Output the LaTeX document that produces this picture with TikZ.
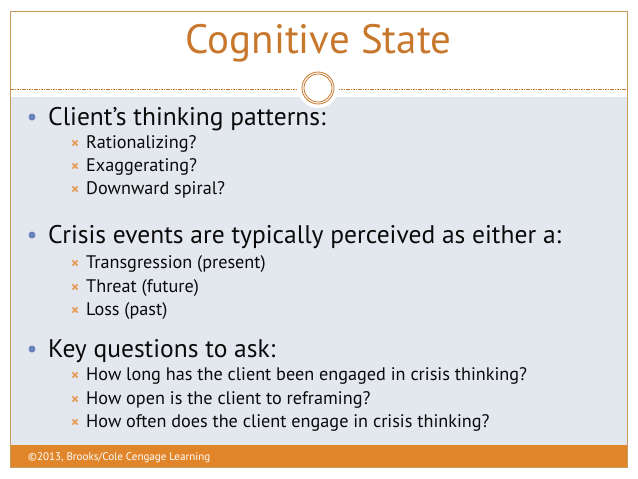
\documentclass[tikz,border=0pt]{standalone}
\usepackage{fontspec}
\setmainfont{PT Sans}
\usetikzlibrary{shapes.misc}
\definecolor{frameor}{HTML}{C89A5E}
\definecolor{titleor}{HTML}{C8782D}
\definecolor{footor}{HTML}{E0852A}
\definecolor{panel}{HTML}{E3E7EE}
\definecolor{dotblue}{HTML}{6A82B8}
\definecolor{xmark}{HTML}{E39A52}
\definecolor{txt}{HTML}{0A0A0A}
\tikzset{
  main/.style={anchor=base west, inner sep=0pt, font=\fontsize{25.5}{30}\selectfont, text=txt},
  sub/.style={anchor=base west, inner sep=0pt, font=\fontsize{18.2}{22}\selectfont, text=txt},
  dotbullet/.style={circle, fill=dotblue, inner sep=0pt, minimum size=7pt},
  xbullet/.style={cross out, draw=xmark, line width=1.6pt, inner sep=0pt, minimum size=3.5pt},
}
\begin{document}
\begin{tikzpicture}[x=1pt,y=-1pt]
\useasboundingbox (0,0) rectangle (638,479);
\fill[white] (0,0) rectangle (638,479);
% panel and footer
\fill[panel] (10,97) rectangle (627,445);
\fill[footor] (10,445) rectangle (627,467);
\draw[frameor, line width=0.9pt] (10,11) rectangle (627,467);
% dashed separator
\draw[titleor, line width=0.8pt, dash pattern=on 1.6pt off 0.8pt] (10,89) -- (627,89);
% circle ornament
\node[circle, fill=white, minimum size=40pt, inner sep=0pt] (halo) at (318,88) {};
\node[circle, draw=titleor, line width=0.8pt, minimum size=32pt, inner sep=0pt] (ringout) at (318,88) {};
\node[circle, draw=titleor, line width=0.8pt, minimum size=28pt, inner sep=0pt] (ringin) at (318,88) {};
% title
\node[anchor=base, inner sep=0pt, font=\fontsize{41}{45}\selectfont, text=titleor] (title) at (318.5,53) {Cognitive State};
% section 1
\node[dotbullet] (d1) at (32,117) {};
\node[main] (m1) at (48,125) {Client’s thinking patterns:};
\node[xbullet] (x11) at (75,143) {};
\node[sub] (s11) at (86,148) {Rationalizing?};
\node[xbullet] (x12) at (75,166) {};
\node[sub] (s12) at (86,171) {Exaggerating?};
\node[xbullet] (x13) at (75,189) {};
\node[sub] (s13) at (86,194) {Downward spiral?};
% section 2
\node[dotbullet] (d2) at (32,235) {};
\node[main] (m2) at (48,243) {Crisis events are typically perceived as either a:};
\node[xbullet] (x21) at (75,263) {};
\node[sub] (s21) at (86,268) {Transgression (present)};
\node[xbullet] (x22) at (75,287) {};
\node[sub] (s22) at (86,292) {Threat (future)};
\node[xbullet] (x23) at (75,310) {};
\node[sub] (s23) at (86,315) {Loss (past)};
% section 3
\node[dotbullet] (d3) at (32,349) {};
\node[main] (m3) at (48,357) {Key questions to ask:};
\node[xbullet] (x31) at (75,375) {};
\node[sub] (s31) at (86,380) {How long has the client been engaged in crisis thinking?};
\node[xbullet] (x32) at (75,399) {};
\node[sub] (s32) at (86,404) {How open is the client to reframing?};
\node[xbullet] (x33) at (75,422) {};
\node[sub] (s33) at (86,427) {How often does the client engage in crisis thinking?};
% footer
\node[anchor=base west, inner sep=0pt, text=white] (foot) at (28,460.5) {\resizebox{182pt}{!}{\fontsize{12}{14}\selectfont ©2013, Brooks/Cole Cengage Learning}};
\end{tikzpicture}
\end{document}
